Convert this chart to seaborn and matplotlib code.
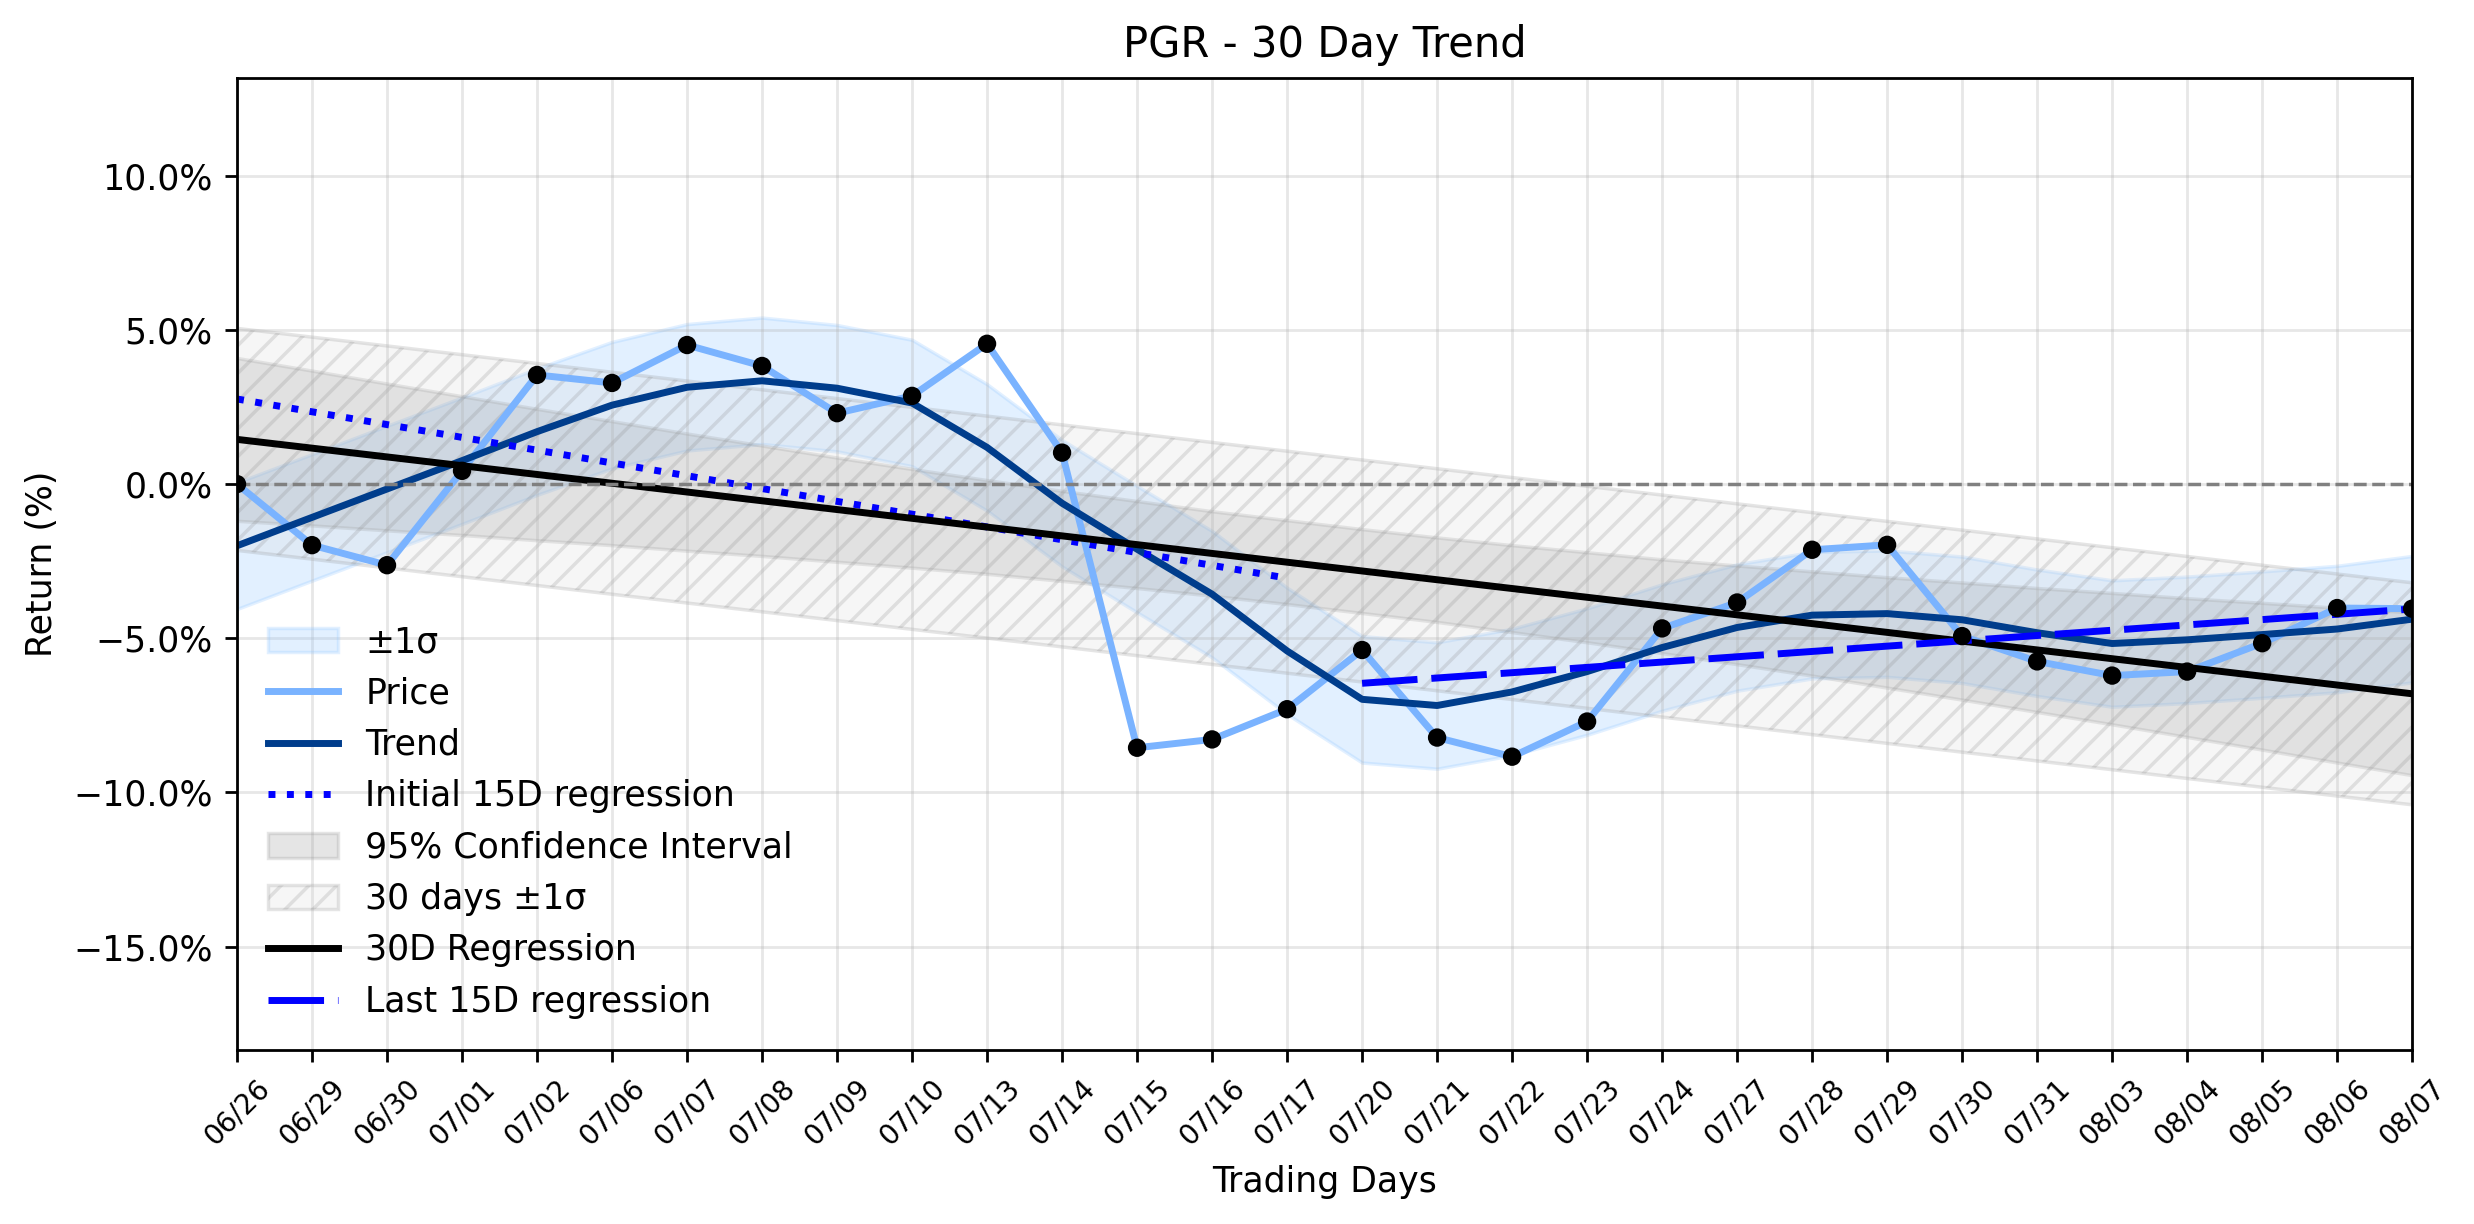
import numpy as np
import pandas as pd
import seaborn as sns
import matplotlib.pyplot as plt
from matplotlib.ticker import PercentFormatter, MultipleLocator

# -----------------------------------
# Data (% return)
# -----------------------------------
dates = ["06/26", "06/29", "06/30", "07/01", "07/02", "07/06", "07/07", "07/08",
         "07/09", "07/10", "07/13", "07/14", "07/15", "07/16", "07/17", "07/20",
         "07/21", "07/22", "07/23", "07/24", "07/27", "07/28", "07/29", "07/30",
         "07/31", "08/03", "08/04", "08/05", "08/06", "08/07"]

price = [0.00, -1.98, -2.63, 0.43, 3.54, 3.28, 4.51, 3.83, 2.30, 2.86,
         4.55, 1.02, -8.55, -8.28, -7.30, -5.38, -8.22, -8.84, -7.70, -4.68,
         -3.84, -2.13, -1.97, -4.93, -5.75, -6.21, -6.08, -5.16, -4.02, -4.04]

trend = [-2.00, -1.08, -0.16, 0.76, 1.70, 2.56, 3.14, 3.35, 3.11, 2.63,
         1.19, -0.62, -2.11, -3.57, -5.41, -6.98, -7.18, -6.74, -6.08, -5.30,
         -4.65, -4.25, -4.20, -4.40, -4.82, -5.17, -5.05, -4.88, -4.70, -4.38]

band_sigma = 2.05

# 95% confidence interval around the 30D regression
ci_upper = [4.09, 3.68, 3.26, 2.85, 2.44, 2.04, 1.64, 1.25, 0.86, 0.49,
            0.13, -0.22, -0.55, -0.88, -1.17, -1.46, -1.73, -1.98, -2.21, -2.44,
            -2.64, -2.83, -3.02, -3.19, -3.37, -3.53, -3.70, -3.85, -4.01, -4.16]
ci_lower = [-1.19, -1.34, -1.50, -1.65, -1.82, -1.98, -2.16, -2.33, -2.52, -2.71,
            -2.91, -3.14, -3.37, -3.62, -3.89, -4.18, -4.47, -4.80, -5.13, -5.48,
            -5.84, -6.21, -6.60, -6.99, -7.39, -7.79, -8.20, -8.61, -9.03, -9.44]

# 30 days +-1 sigma band (straight)
band30_x = [0, 29]
band30_upper = [5.05, -3.20]
band30_lower = [-2.15, -10.40]

# regression lines
reg30_x = [0, 29]
reg30_y = [1.45, -6.80]
init15_x = [0, 14]
init15_y = [2.76, -3.05]
last15_x = [15, 29]
last15_y = [-6.46, -4.05]

df = pd.DataFrame({"day": np.arange(len(dates)), "date": dates,
                   "price": price, "trend": trend,
                   "ci_upper": ci_upper, "ci_lower": ci_lower})
df["band_upper"] = df["trend"] + band_sigma
df["band_lower"] = df["trend"] - band_sigma

# -----------------------------------
# Plot
# -----------------------------------
fig, ax = plt.subplots(figsize=(2474 / 250, 1224 / 250), dpi=250)
fig.subplots_adjust(left=0.0958, right=0.975, top=0.9363, bottom=0.1422)

ax.fill_between(df["day"], df["band_lower"], df["band_upper"],
                color="#8ec5ff", alpha=0.25, label="±1σ")
sns.lineplot(data=df, x="day", y="price", color="#7ab3ff", linewidth=2,
             label="Price", ax=ax)
sns.lineplot(data=df, x="day", y="trend", color="#003d8c", linewidth=2,
             label="Trend", ax=ax)
ax.plot(init15_x, init15_y, color="blue", linestyle=":", linewidth=2,
        label="Initial 15D regression")
ax.fill_between(df["day"], df["ci_lower"], df["ci_upper"],
                color="gray", alpha=0.2, label="95% Confidence Interval")
ax.fill_between(band30_x, band30_lower, band30_upper, facecolor="lightgray",
                edgecolor="gray", hatch="///", alpha=0.2, label="30 days ±1σ")
ax.plot(reg30_x, reg30_y, color="black", linewidth=2, label="30D Regression")
ax.plot(last15_x, last15_y, color="blue", linestyle=(0, (8, 2)), linewidth=2,
        label="Last 15D regression")

sns.scatterplot(data=df, x="day", y="price", color="black", s=28,
                edgecolor="none", zorder=5, ax=ax)
ax.axhline(0, color="gray", linestyle="--", linewidth=1)

ax.set_xlim(0, len(dates) - 1)
ax.set_ylim(-18.35, 13.17)
ax.set_xticks(df["day"])
ax.set_xticklabels(dates, rotation=45, fontsize=8)
ax.yaxis.set_major_locator(MultipleLocator(5))
ax.yaxis.set_major_formatter(PercentFormatter(decimals=1))
ax.grid(True, alpha=0.3)

ax.set_title("PGR - 30 Day Trend")
ax.set_xlabel("Trading Days")
ax.set_ylabel("Return (%)")

handles, labels = ax.get_legend_handles_labels()
order = ["±1σ", "Price", "Trend", "Initial 15D regression",
         "95% Confidence Interval", "30 days ±1σ", "30D Regression",
         "Last 15D regression"]
lookup = dict(zip(labels, handles))
ax.legend([lookup[k] for k in order], order, loc="lower left", frameon=False)

fig.savefig("out.png", dpi=250)
